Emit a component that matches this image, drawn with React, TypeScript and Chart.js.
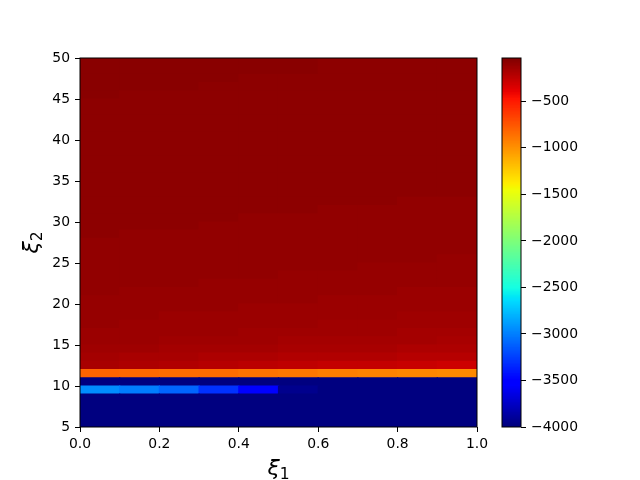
import React, { useEffect, useRef } from "react";
import { Chart, registerables } from "chart.js";

Chart.register(...registerables);

// ---- axes / cells ----
const XI1_EDGES = [0.0, 0.1, 0.2, 0.3, 0.4, 0.5, 0.6, 0.7, 0.8, 0.9, 1.0];
const XI2_EDGES = [
  5, 6, 7, 8, 9, 10, 11, 12, 13, 14, 15, 16, 17, 18, 19, 20, 21, 22, 23, 24, 25, 26, 27,
  28, 29, 30, 31, 32, 33, 34, 35, 36, 37, 38, 39, 40, 41, 42, 43, 44, 45, 46, 47, 48, 49, 50,
];

const X_TICKS = [0.0, 0.2, 0.4, 0.6, 0.8, 1.0];
const X_TICK_LABELS = ["0.0", "0.2", "0.4", "0.6", "0.8", "1.0"];
const Y_TICKS = [5, 10, 15, 20, 25, 30, 35, 40, 45, 50];
const Y_TICK_LABELS = ["5", "10", "15", "20", "25", "30", "35", "40", "45", "50"];
const CB_TICKS = [-4000, -3500, -3000, -2500, -2000, -1500, -1000, -500];
const CB_TICK_LABELS = ["\u22124000", "\u22123500", "\u22123000", "\u22122500", "\u22122000", "\u22121500", "\u22121000", "\u2212500"];

const VMIN = -4000;
const VMAX = -34;

// ---- cell values, one array per ξ2 row (lower edge), columns ξ1 = 0.0 .. 0.9 ----
const Z_05 = [-4000, -4000, -4000, -4000, -4000, -4000, -4000, -4000, -4000, -4000];
const Z_06 = [-4000, -4000, -4000, -4000, -4000, -4000, -4000, -4000, -4000, -4000];
const Z_07 = [-4000, -4000, -4000, -4000, -4000, -4000, -4000, -4000, -4000, -4000];
const Z_08 = [-4000, -4000, -4000, -4000, -4000, -4000, -4000, -4000, -4000, -4000];
const Z_09 = [-2950, -3010, -3110, -3310, -3560, -3940, -4000, -4000, -4000, -4000];
const Z_10 = [-4000, -4000, -4000, -4000, -4000, -4000, -4000, -4000, -4000, -4000];
const Z_11 = [-815, -825, -840, -855, -880, -895, -925, -935, -955, -965];
const Z_12 = [-182, -197, -212, -228, -243, -259, -272, -276, -290, -305];
const Z_13 = [-165, -178, -182, -193, -197, -207, -210, -214, -224, -227];
const Z_14 = [-148, -152, -160, -163, -166, -176, -179, -182, -192, -196];
const Z_15 = [-137, -140, -147, -149, -152, -163, -165, -167, -170, -178];
const Z_16 = [-131, -134, -136, -138, -146, -148, -150, -151, -162, -164];
const Z_17 = [-125, -130, -132, -133, -135, -136, -146, -147, -148, -149];
const Z_18 = [-121, -123, -129, -130, -131, -133, -134, -136, -145, -146];
const Z_19 = [-117, -119, -120, -121, -129, -130, -131, -132, -134, -135];
const Z_20 = [-114, -116, -117, -118, -120, -121, -129, -130, -131, -132];
const Z_21 = [-110, -114, -115, -116, -117, -118, -120, -121, -129, -130];
const Z_22 = [-107, -109, -110, -114, -115, -116, -117, -118, -120, -121];
const Z_23 = [-105, -106, -107, -108, -110, -114, -115, -116, -117, -118];
const Z_24 = [-103, -104, -105, -106, -107, -109, -110, -114, -115, -116];
const Z_25 = [-102, -103, -104, -105, -106, -107, -108, -109, -110, -114];
const Z_26 = [-100, -101, -102, -103, -104, -105, -106, -107, -108, -109];
const Z_27 = [-98, -100, -101, -102, -103, -104, -104, -105, -106, -107];
const Z_28 = [-95, -98, -99, -100, -101, -102, -102, -103, -104, -105];
const Z_29 = [-93, -94, -95, -98, -99, -100, -101, -102, -103, -104];
const Z_30 = [-92, -93, -94, -95, -98, -99, -100, -101, -102, -103];
const Z_31 = [-91, -92, -92, -93, -94, -95, -98, -99, -100, -101];
const Z_32 = [-90, -91, -91, -92, -92, -93, -94, -95, -98, -99];
const Z_33 = [-89, -90, -91, -91, -92, -93, -94, -94, -95, -95];
const Z_34 = [-88, -89, -90, -90, -91, -92, -93, -93, -94, -94];
const Z_35 = [-88, -89, -89, -90, -91, -91, -92, -93, -94, -94];
const Z_36 = [-88, -88, -89, -89, -90, -91, -92, -92, -93, -94];
const Z_37 = [-87, -87, -88, -88, -89, -90, -91, -92, -93, -93];
const Z_38 = [-86, -86, -87, -88, -89, -90, -90, -91, -92, -93];
const Z_39 = [-85, -86, -87, -87, -88, -89, -90, -91, -92, -92];
const Z_40 = [-85, -85, -86, -87, -88, -89, -90, -90, -91, -92];
const Z_41 = [-84, -85, -86, -86, -87, -88, -89, -90, -91, -92];
const Z_42 = [-84, -84, -85, -86, -87, -88, -89, -90, -91, -91];
const Z_43 = [-83, -84, -85, -85, -86, -87, -88, -89, -90, -91];
const Z_44 = [-82, -83, -84, -85, -86, -87, -88, -89, -90, -91];
const Z_45 = [-79, -82, -83, -84, -85, -86, -87, -88, -89, -90];
const Z_46 = [-77, -78, -79, -83, -84, -85, -86, -87, -88, -89];
const Z_47 = [-75, -74, -76, -79, -82, -83, -85, -86, -87, -88];
const Z_48 = [-73, -72, -73, -75, -79, -79, -84, -85, -86, -88];
const Z_49 = [-72, -71, -72, -74, -77, -79, -83, -84, -86, -87];

const Z_ROWS = [
  Z_05, Z_06, Z_07, Z_08, Z_09, Z_10, Z_11, Z_12, Z_13, Z_14, Z_15, Z_16, Z_17, Z_18, Z_19,
  Z_20, Z_21, Z_22, Z_23, Z_24, Z_25, Z_26, Z_27, Z_28, Z_29, Z_30, Z_31, Z_32, Z_33, Z_34,
  Z_35, Z_36, Z_37, Z_38, Z_39, Z_40, Z_41, Z_42, Z_43, Z_44, Z_45, Z_46, Z_47, Z_48, Z_49,
];

// ---- jet colormap (matplotlib segment data, 256 levels) ----
const JET_R: [number, number][] = [[0, 0], [0.35, 0], [0.66, 1], [0.89, 1], [1, 0.5]];
const JET_G: [number, number][] = [[0, 0], [0.125, 0], [0.375, 1], [0.64, 1], [0.91, 0], [1, 0]];
const JET_B: [number, number][] = [[0, 0.5], [0.11, 1], [0.34, 1], [0.65, 0], [1, 0]];

function seg(t: number, s: [number, number][]) {
  for (let i = 1; i < s.length; i++) {
    if (t <= s[i][0]) {
      const [x0, y0] = s[i - 1];
      const [x1, y1] = s[i];
      return y0 + ((t - x0) / (x1 - x0)) * (y1 - y0);
    }
  }
  return s[s.length - 1][1];
}
function lutColor(i: number) {
  const t = i / 255;
  const r = Math.round(seg(t, JET_R) * 255);
  const g = Math.round(seg(t, JET_G) * 255);
  const b = Math.round(seg(t, JET_B) * 255);
  return `rgb(${r},${g},${b})`;
}
function jet(v: number) {
  const x = (v - VMIN) / (VMAX - VMIN);
  let idx = Math.floor(x * 256);
  if (idx < 0) idx = 0;
  if (idx > 255) idx = 255;
  return lutColor(idx);
}

const FONT = "DejaVu Sans";

const framePlugin = {
  id: "frame",
  afterDatasetsDraw(chart: any) {
    const { ctx, chartArea: a } = chart;
    ctx.save();
    ctx.strokeStyle = "#000";
    ctx.lineWidth = 1;
    ctx.strokeRect(a.left, a.top, a.right - a.left, a.bottom - a.top);
    ctx.restore();
  },
};

function drawXi(ctx: CanvasRenderingContext2D, sub: string, x: number, y: number, rotate: boolean) {
  ctx.save();
  ctx.translate(x, y);
  if (rotate) ctx.rotate(-Math.PI / 2);
  ctx.fillStyle = "#000";
  ctx.textBaseline = "alphabetic";
  ctx.textAlign = "left";
  ctx.font = `italic 22px "${FONT}"`;
  const w1 = ctx.measureText("\u03BE").width;
  ctx.font = `15.5px "${FONT}"`;
  const w2 = ctx.measureText(sub).width;
  const start = -(w1 + w2) / 2;
  ctx.font = `italic 22px "${FONT}"`;
  ctx.fillText("\u03BE", start, 0);
  ctx.font = `15.5px "${FONT}"`;
  ctx.fillText(sub, start + w1, 4);
  ctx.restore();
}

const labelPlugin = {
  id: "xiLabels",
  afterDraw(chart: any) {
    const { ctx, chartArea: a } = chart;
    drawXi(ctx, "1", (a.left + a.right) / 2, a.bottom + 48, false);
    drawXi(ctx, "2", a.left - 42, (a.top + a.bottom) / 2, true);
  },
};

function tickFont() {
  return { family: FONT, size: 13.9 };
}

export default function App() {
  const mainRef = useRef<HTMLCanvasElement | null>(null);
  const cbRef = useRef<HTMLCanvasElement | null>(null);

  useEffect(() => {
    document.body.style.margin = "0";
    const datasets = Z_ROWS.map((row, r) => ({
      data: row.map((_v, c) => ({
        x: (XI1_EDGES[c] + XI1_EDGES[c + 1]) / 2,
        y: [XI2_EDGES[r], XI2_EDGES[r + 1]],
      })),
      backgroundColor: row.map((v) => jet(v)),
      borderWidth: 0,
      inflateAmount: 0.6,
      grouped: false,
      barPercentage: 1,
      categoryPercentage: 1,
    }));

    const main = new Chart(mainRef.current as HTMLCanvasElement, {
      type: "bar",
      data: { datasets: datasets as any },
      options: {
        animation: false,
        responsive: false,
        devicePixelRatio: 1,
        layout: { padding: { left: 0, top: 58, right: 163, bottom: 0 } },
        plugins: { legend: { display: false }, tooltip: { enabled: false } },
        scales: {
          x: {
            type: "linear",
            min: 0,
            max: 1,
            offset: false,
            afterBuildTicks: (s: any) => {
              s.ticks = X_TICKS.map((v) => ({ value: v }));
            },
            afterFit: (s: any) => {
              s.height = 53;
            },
            grid: {
              display: true,
              drawOnChartArea: false,
              drawTicks: true,
              tickLength: 5,
              color: "#000",
              lineWidth: 1,
              offset: false,
            },
            border: { display: false },
            ticks: {
              color: "#000",
              font: tickFont(),
              padding: 4,
              maxRotation: 0,
              autoSkip: false,
              callback: (v: any) => X_TICK_LABELS[X_TICKS.indexOf(v)],
            },
          },
          y: {
            type: "linear",
            min: 5,
            max: 50,
            afterBuildTicks: (s: any) => {
              s.ticks = Y_TICKS.map((v) => ({ value: v }));
            },
            afterFit: (s: any) => {
              s.width = 80;
            },
            grid: {
              display: true,
              drawOnChartArea: false,
              drawTicks: true,
              tickLength: 5,
              color: "#000",
              lineWidth: 1,
            },
            border: { display: false },
            ticks: {
              color: "#000",
              font: tickFont(),
              padding: 5,
              autoSkip: false,
              callback: (v: any) => Y_TICK_LABELS[Y_TICKS.indexOf(v)],
            },
          },
        },
      } as any,
      plugins: [framePlugin, labelPlugin],
    });

    const step = (VMAX - VMIN) / 256;
    const cbDatasets = [] as any[];
    for (let i = 0; i < 256; i++) {
      cbDatasets.push({
        data: [[VMIN + i * step, VMIN + (i + 1) * step]],
        backgroundColor: lutColor(i),
        borderWidth: 0,
        inflateAmount: 0.6,
        grouped: false,
        barPercentage: 1,
        categoryPercentage: 1,
      });
    }

    const cb = new Chart(cbRef.current as HTMLCanvasElement, {
      type: "bar",
      data: { labels: [""], datasets: cbDatasets },
      options: {
        animation: false,
        responsive: false,
        devicePixelRatio: 1,
        layout: { padding: { left: 502, top: 58, right: 0, bottom: 53 } },
        plugins: { legend: { display: false }, tooltip: { enabled: false } },
        scales: {
          x: { display: false },
          y: {
            position: "right",
            min: VMIN,
            max: VMAX,
            afterBuildTicks: (s: any) => {
              s.ticks = CB_TICKS.map((v) => ({ value: v }));
            },
            afterFit: (s: any) => {
              s.width = 119;
            },
            grid: {
              display: true,
              drawOnChartArea: false,
              drawTicks: true,
              tickLength: 5,
              color: "#000",
              lineWidth: 1,
            },
            border: { display: false },
            ticks: {
              color: "#000",
              font: tickFont(),
              padding: 5,
              autoSkip: false,
              callback: (v: any) => CB_TICK_LABELS[CB_TICKS.indexOf(v)],
            },
          },
        },
      } as any,
      plugins: [framePlugin],
    });

    return () => {
      main.destroy();
      cb.destroy();
    };
  }, []);

  return (
    <div style={{ position: "fixed", left: 0, top: 0, width: 640, height: 480, background: "#fff" }}>
      <canvas ref={mainRef} width={640} height={480} style={{ position: "absolute", left: 0, top: 0 }} />
      <canvas ref={cbRef} width={640} height={480} style={{ position: "absolute", left: 0, top: 0 }} />
    </div>
  );
}
